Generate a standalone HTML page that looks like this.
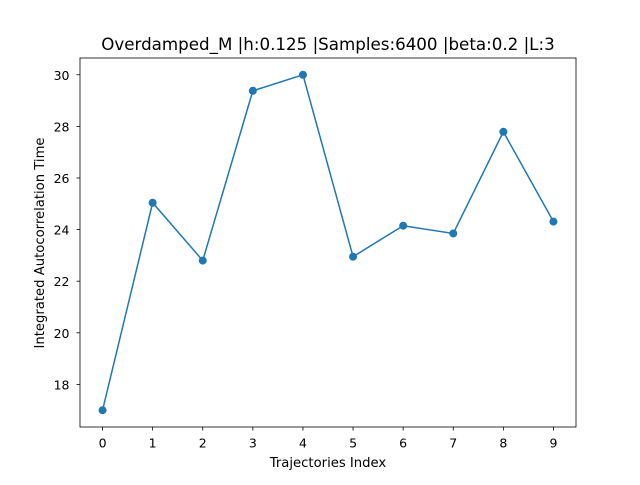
<!DOCTYPE html>
<html><head><meta charset="utf-8"><style>
body{margin:0;background:#fff;}
svg text{font-family:"DejaVu Sans","Liberation Sans",sans-serif;fill:#000;}
</style></head><body>
<svg id="chart" width="640" height="480" xmlns="http://www.w3.org/2000/svg">
<rect width="640" height="480" fill="#fff"/>
<text x="328" y="50" font-size="16.7" text-anchor="middle">Overdamped_M |h:0.125 |Samples:6400 |beta:0.2 |L:3</text>
<g id="axes"></g>
<text x="328" y="467" font-size="13.2" text-anchor="middle">Trajectories Index</text>
<text transform="translate(44,243) rotate(-90)" font-size="13.2" text-anchor="middle">Integrated Autocorrelation Time</text>
</svg>
<script>
const categories=[0,1,2,3,4,5,6,7,8,9];
const values=[17.0,25.04,22.8,29.38,30.0,22.95,24.15,23.85,27.79,24.31];
const yTicks=[18,20,22,24,26,28,30];
const L=80,R=576,T=58,B=427;
const xmin=-0.45,xmax=9.45;
const vmin=Math.min(...values),vmax=Math.max(...values),pad=(vmax-vmin)*0.05;
const ymin=vmin-pad,ymax=vmax+pad;
const xs=v=>L+(v-xmin)/(xmax-xmin)*(R-L);
const ys=v=>B-(v-ymin)/(ymax-ymin)*(B-T);
const NS="http://www.w3.org/2000/svg";
const g=document.getElementById('axes');
function mk(t,a){const e=document.createElementNS(NS,t);for(const k in a)e.setAttribute(k,a[k]);g.appendChild(e);return e;}
categories.forEach(c=>{
 const x=xs(c);
 const t=mk('line',{x1:x,x2:x,y1:B,y2:B+3.5,stroke:'#000','stroke-width':0.8});
 
 
 const l=mk('text',{x:x,y:B+20.5,'font-size':12.5,'text-anchor':'middle'});l.textContent=c;
 
 
});
yTicks.forEach(v=>{
 const y=ys(v);
 const t=mk('line',{x1:L-3.5,x2:L,y1:y,y2:y,stroke:'#000','stroke-width':0.8});
 
 
 const l=mk('text',{x:L-10.5,y:y+5,'font-size':12.5,'text-anchor':'end'});l.textContent=v;
 
 
});
const line=mk('polyline',{points:categories.map((c,i)=>xs(c)+','+ys(values[i])).join(' '),fill:'none',stroke:'#1f77b4','stroke-width':1.5});


categories.forEach((c,i)=>{
 const p=mk('circle',{cx:xs(c),cy:ys(values[i]),r:4,fill:'#1f77b4'});
 
 
});
const f=mk('rect',{x:L,y:T,width:R-L,height:B-T,fill:'none',stroke:'#000','stroke-width':0.8});


</script>
</body></html>
